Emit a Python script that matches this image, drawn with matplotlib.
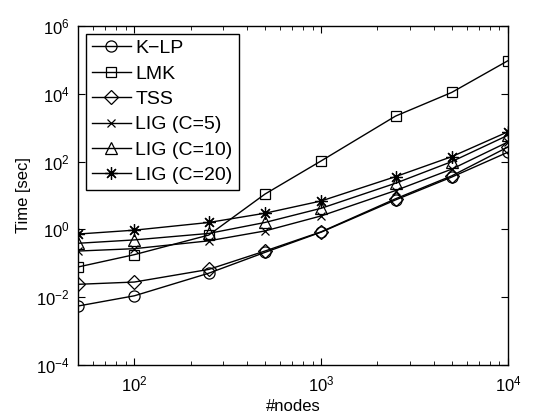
import numpy as np
import matplotlib.pyplot as plt
from matplotlib.ticker import LogLocator, NullLocator

plt.rcParams['font.family'] = ['Liberation Sans', 'DejaVu Sans']
plt.rcParams['mathtext.fontset'] = 'custom'
plt.rcParams['mathtext.rm'] = 'Liberation Sans'

nodes = [50, 100, 250, 500, 1000, 2500, 5000, 10000]

klp = [0.0055, 0.011, 0.051, 0.21, 0.83, 7.4, 35, 190]
lmk = [0.078, 0.18, 0.68, 11, 105, 2200, 11000, 95000]
tss = [0.024, 0.028, 0.066, 0.23, 0.85, 8.0, 38, 270]
lig5 = [0.23, 0.27, 0.46, 0.9, 2.5, 14, 60, 380]
lig10 = [0.39, 0.49, 0.76, 1.6, 4.2, 23, 100, 600]
lig20 = [0.73, 0.95, 1.6, 3.0, 6.9, 36, 140, 760]

# asterisk marker like matlab's '*'
star = (8, 2, 0)
series = [
    ('K\u2212LP', klp, 'o', 8),
    ('LMK', lmk, 's', 7),
    ('TSS', tss, 'D', 7),
    ('LIG (C=5)', lig5, 'x', 6),
    ('LIG (C=10)', lig10, '^', 9),
    ('LIG (C=20)', lig20, star, 9),
]

fig = plt.figure(figsize=(5.35, 4.17), dpi=100)
ax = fig.add_axes([0.146, 0.1247, 0.8035, 0.8129])

for name, vals, m, ms in series:
    ax.plot(nodes, vals, color='black', lw=1, marker=m, ms=ms,
            mfc='none', mec='black', mew=0.9, label=name)

ax.set_xscale('log')
ax.set_yscale('log')
ax.set_xlim(50, 1e4)
ax.set_ylim(1e-4, 1e6)
ax.set_yticks([1e-4, 1e-2, 1e0, 1e2, 1e4, 1e6])
ax.yaxis.set_minor_locator(NullLocator())
ax.xaxis.set_minor_locator(LogLocator(base=10, subs=np.arange(2, 10)))
ax.tick_params(which='both', direction='in', top=True, right=True, labelsize=12)
ax.tick_params(which='major', length=5)
ax.tick_params(which='minor', length=3)
ax.tick_params(axis='x', pad=7)
ax.tick_params(axis='y', pad=6)
for s in ax.spines.values():
    s.set_linewidth(1)

ax.set_xlabel('#nodes', fontsize=12, labelpad=3)
ax.set_ylabel('Time [sec]', fontsize=12, labelpad=4)

leg = ax.legend(loc='upper left', fontsize=14, fancybox=False, framealpha=1,
                edgecolor='black', handlelength=2.0, borderpad=0.3,
                labelspacing=0.4, handletextpad=0.25, borderaxespad=0.4)
leg.get_frame().set_linewidth(1)

fig.savefig('out.png', dpi=100)
